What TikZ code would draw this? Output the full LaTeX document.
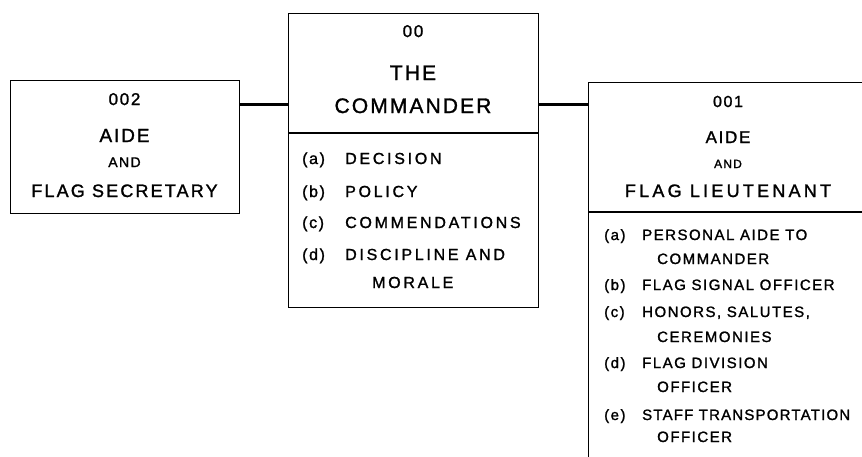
\documentclass[tikz,border=0pt]{standalone}
\usepackage{fontspec}
\setmainfont{Liberation Sans}[LetterSpace=10, FakeBold=1.4]
\usetikzlibrary{positioning, calc}

\newcommand{\txtsize}[1]{\fontsize{#1}{#1}\selectfont}
\newcommand{\wide}[1]{\addfontfeature{LetterSpace=#1}}

\begin{document}
\begin{tikzpicture}[
    x=1pt, y=-1pt,
    box/.style={rectangle, draw=black, line width=1.3pt, inner sep=0pt, anchor=north west},
    wire/.style={line width=3pt},
    divider/.style={line width=1.1pt},
    hdr/.style={anchor=base, inner sep=0pt},
    entry/.style={anchor=base west, inner sep=0pt, align=left}
]
\useasboundingbox (0,0) rectangle (862,456);
\clip (0,0) rectangle (862,456);

% Boxes
\node[box, minimum width=229pt, minimum height=133pt] (sec) at (10,80) {};
\node[box, minimum width=250pt, minimum height=294pt] (cmd) at (288,13) {};
\node[box, minimum width=300pt, minimum height=400pt] (lt) at (588,82) {};

% Dividers
\draw[divider] ($(cmd.north west)+(0,120)$) -- ($(cmd.north east)+(0,120)$);
\draw[divider] ($(lt.north west)+(0,130)$) -- ($(lt.north east)+(0,130)$);

% Links
\coordinate (linkrow) at (0,104);
\draw[wire] (sec.east |- linkrow) -- (cmd.west |- linkrow);
\draw[wire] (cmd.east |- linkrow) -- (lt.west |- linkrow);

% Flag secretary
\node[hdr, font=\txtsize{17}] (secnum) at (124.5,105) {002};
\node[hdr, font=\txtsize{19}] (secaide) at (124.5,142) {AIDE};
\node[hdr, font=\txtsize{14}] (secand) at (124.5,167) {AND};
\node[hdr, font=\txtsize{18}\wide{12}] (secname) at (124.5,197) {FLAG SECRETARY};

% Commander
\node[hdr, font=\txtsize{17}] (cmdnum) at (413,37) {00};
\node[hdr, font=\txtsize{21}] (cmdthe) at (413,80) {THE};
\node[hdr, font=\txtsize{21}] (cmdname) at (413,113) {COMMANDER};
\node[entry, font=\txtsize{16}] (cmda) at (302,164) {(a)};
\node[entry, font=\txtsize{16}] (cmdb) at (302,197) {(b)};
\node[entry, font=\txtsize{16}] (cmdc) at (302,228) {(c)};
\node[entry, font=\txtsize{16}] (cmdd) at (302,260) {(d)};
\node[entry, font=\txtsize{16}\wide{17}] (cmdta) at (345,164) {DECISION};
\node[entry, font=\txtsize{16}\wide{17}] (cmdtb) at (345,197) {POLICY};
\node[entry, font=\txtsize{16}\wide{17}] (cmdtc) at (345,228) {COMMENDATIONS};
\node[entry, font=\txtsize{16}\wide{17}] (cmdtd) at (345,260) {DISCIPLINE AND};
\node[entry, font=\txtsize{16}\wide{17}] (cmdtd2) at (372,288) {MORALE};

% Flag lieutenant
\node[hdr, font=\txtsize{16}] (ltnum) at (728,107) {001};
\node[hdr, font=\txtsize{17}] (ltaide) at (728,143) {AIDE};
\node[hdr, font=\txtsize{12}] (ltand) at (728,168) {AND};
\node[hdr, font=\txtsize{18}\wide{18}] (ltname) at (728,197) {FLAG LIEUTENANT};
\node[entry, font=\txtsize{15}] (lta) at (604,240) {(a)};
\node[entry, font=\txtsize{15}] (ltb) at (604,290) {(b)};
\node[entry, font=\txtsize{15}] (ltc) at (604,317) {(c)};
\node[entry, font=\txtsize{15}] (ltd) at (604,368) {(d)};
\node[entry, font=\txtsize{15}] (lte) at (604,420) {(e)};
\node[entry, font=\txtsize{15}] (ltta) at (642,240) {PERSONAL AIDE TO};
\node[entry, font=\txtsize{15}] (ltta2) at (657,264) {COMMANDER};
\node[entry, font=\txtsize{15}] (lttb) at (642,290) {FLAG SIGNAL OFFICER};
\node[entry, font=\txtsize{15}] (lttc) at (642,317) {HONORS, SALUTES,};
\node[entry, font=\txtsize{15}] (lttc2) at (657,342) {CEREMONIES};
\node[entry, font=\txtsize{15}] (lttd) at (642,368) {FLAG DIVISION};
\node[entry, font=\txtsize{15}] (lttd2) at (657,392) {OFFICER};
\node[entry, font=\txtsize{15}\wide{8}] (ltte) at (642,420) {STAFF TRANSPORTATION};
\node[entry, font=\txtsize{15}] (ltte2) at (657,442) {OFFICER};
\end{tikzpicture}
\end{document}
